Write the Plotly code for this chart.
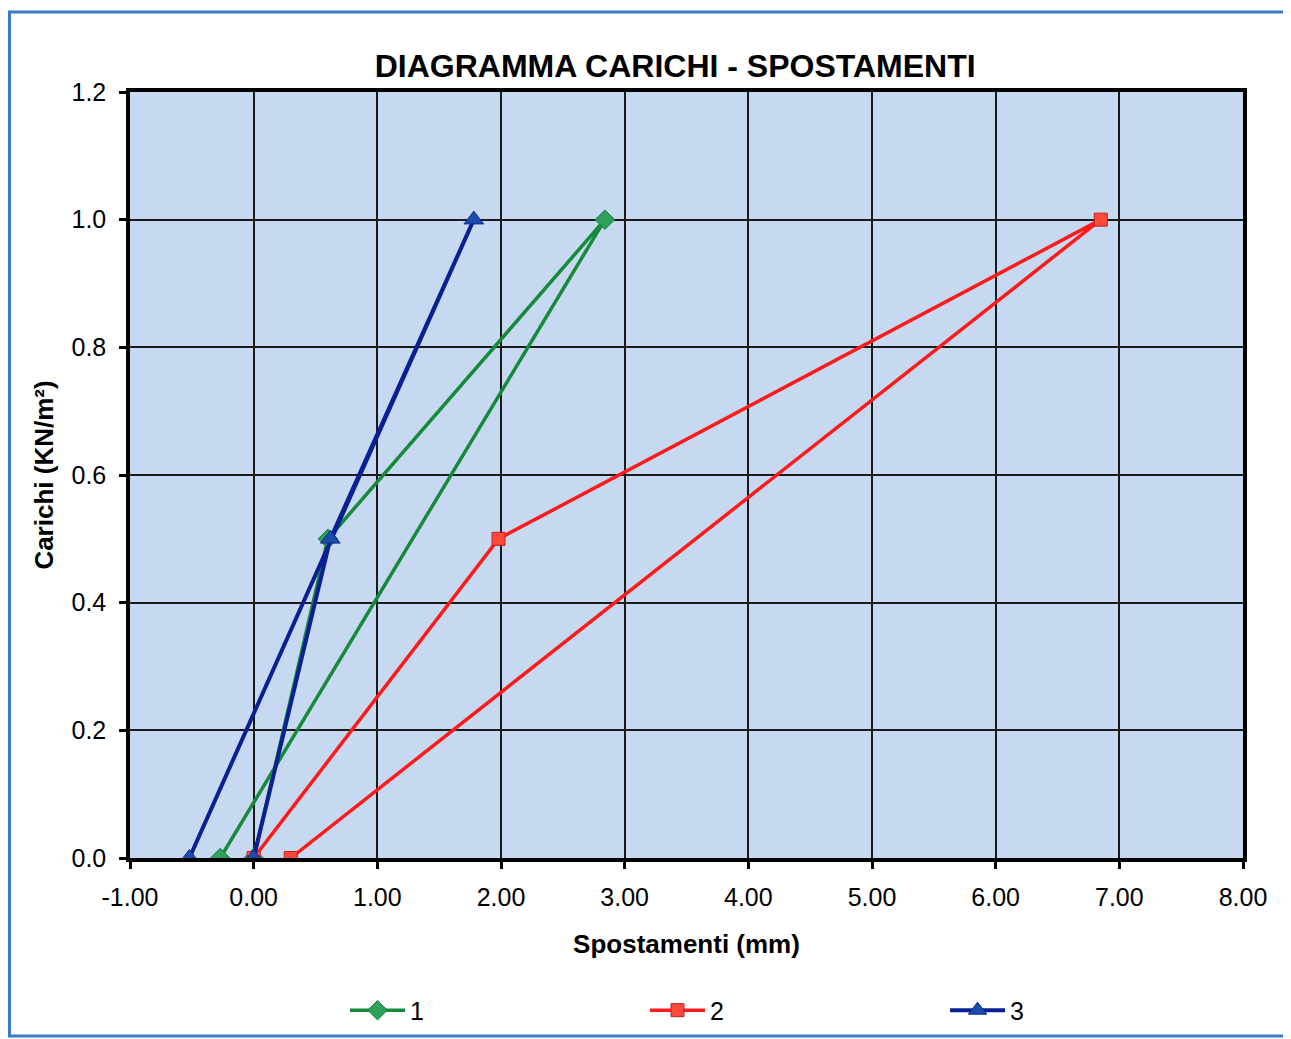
import plotly.graph_objects as go

# Data (Spostamenti mm, Carichi KN/m²)
x1 = [0.00, 0.60, 2.84, -0.27]
y1 = [0.0, 0.5, 1.0, 0.0]
x2 = [0.00, 1.98, 6.85, 0.30]
y2 = [0.0, 0.5, 1.0, 0.0]
x3 = [0.00, 0.62, 1.78, -0.52]
y3 = [0.0, 0.5, 1.0, 0.0]
names = ["1", "2", "3"]

x_ticks = [-1, 0, 1, 2, 3, 4, 5, 6, 7, 8]
x_labels = ["-1.00", "0.00", "1.00", "2.00", "3.00", "4.00", "5.00", "6.00", "7.00", "8.00"]
y_ticks = [0.0, 0.2, 0.4, 0.6, 0.8, 1.0, 1.2]
y_labels = ["0.0", "0.2", "0.4", "0.6", "0.8", "1.0", "1.2"]

FONT = "Liberation Sans, Arial, sans-serif"

fig = go.Figure()
fig.add_trace(go.Scatter(
    x=x1, y=y1, name=names[0], mode="lines+markers", legend="legend",
    line=dict(color="#16893a", width=3.5),
    marker=dict(symbol="diamond", size=15, color="#2fa05a",
                line=dict(color="#157a35", width=1))))
fig.add_trace(go.Scatter(
    x=x2, y=y2, name=names[1], mode="lines+markers", legend="legend2",
    line=dict(color="#ff1a1a", width=3.5),
    marker=dict(symbol="square", size=13, color="#ff4a3a",
                line=dict(color="#c02020", width=1))))
fig.add_trace(go.Scatter(
    x=x3, y=y3, name=names[2], mode="lines+markers", legend="legend3",
    line=dict(color="#0b1f94", width=4),
    marker=dict(symbol="triangle-up", size=17, color="#1b4cad",
                line=dict(color="#0b2a8a", width=1))))

legend_common = dict(orientation="h", xanchor="left", yanchor="middle",
                     y=-0.199, itemwidth=55,
                     font=dict(size=25, family=FONT, color="black"),
                     bgcolor="rgba(0,0,0,0)")

fig.update_layout(
    width=1283, height=1060,
    margin=dict(l=122, r=48, t=84, b=210),
    paper_bgcolor="white",
    plot_bgcolor="#c6d9f1",
    font=dict(family=FONT, color="black"),
    title=dict(text="<b>DIAGRAMMA CARICHI - SPOSTAMENTI</b>",
               font=dict(size=32, family=FONT, color="black"),
               x=0.520, xanchor="center", y=1 - 58 / 1060, yanchor="middle"),
    showlegend=True,
    legend=dict(x=0.1932, **legend_common),
    legend2=dict(x=0.4627, **legend_common),
    legend3=dict(x=0.7323, **legend_common),
)

fig.update_xaxes(
    range=[-1, 8], tickvals=x_ticks, ticktext=x_labels,
    showgrid=True, gridcolor="#1a1a1a", gridwidth=1.5,
    zeroline=False,
    showline=True, linecolor="black", linewidth=3.5, mirror=True,
    ticks="outside", ticklen=7, tickwidth=2.5, tickcolor="black",
    ticklabelstandoff=7,
    tickfont=dict(size=25, family=FONT, color="black"),
    title=dict(text="<b>Spostamenti (mm)</b>", font=dict(size=26, family=FONT, color="black"),
               standoff=26),
)
fig.update_yaxes(
    range=[0, 1.2], tickvals=y_ticks, ticktext=y_labels,
    showgrid=True, gridcolor="#1a1a1a", gridwidth=1.5,
    zeroline=False,
    showline=True, linecolor="black", linewidth=3.5, mirror=True,
    ticks="outside", ticklen=7, tickwidth=2.5, tickcolor="black",
    ticklabelstandoff=8,
    tickfont=dict(size=25, family=FONT, color="black"),
    title=dict(text="<b>Carichi (KN/m²)</b>", font=dict(size=26, family=FONT, color="black"),
               standoff=11),
)

# outer blue frame of the chart area
fig.add_shape(type="rect", xref="paper", yref="paper",
              x0=-0.1083, x1=1.0395, y0=-0.2324, y1=1.1044,
              line=dict(color="#3b7ac9", width=3), layer="below")

fig.write_html("out.html")
